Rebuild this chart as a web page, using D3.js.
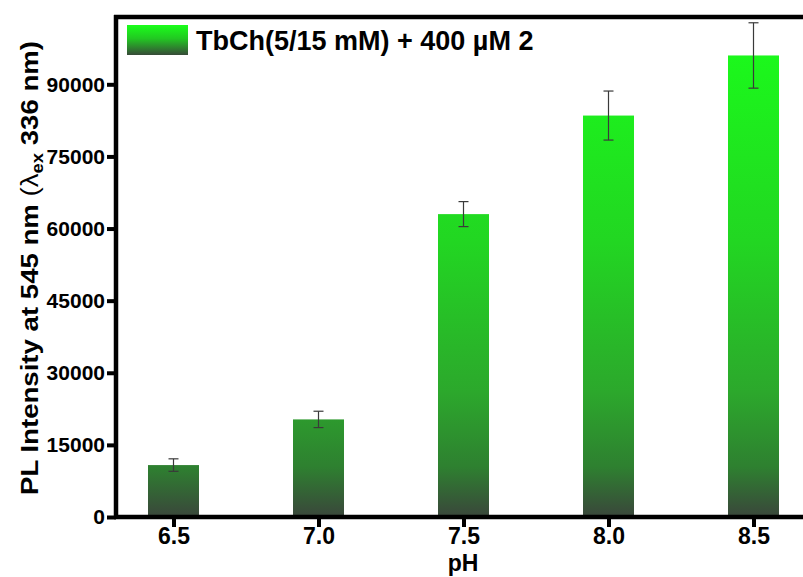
<!DOCTYPE html>
<html>
<head>
<meta charset="utf-8">
<script src="https://cdn.jsdelivr.net/npm/d3@7"></script>
<style>
  body { margin: 0; background: #fff; }
  svg { display: block; font-family: "Liberation Sans", Arial, sans-serif; }
</style>
</head>
<body>
<svg id="vis-svg"></svg>
<script>
/** * * * * * CONSTANTS * * * * */
const width = 803;
const height = 577;
const margin = { top: 17, bottom: 60, left: 116, right: 0 };

// data
const phLabels = ['6.5', '7.0', '7.5', '8.0', '8.5'];
const intensity = [10800, 20300, 63000, 83500, 96000];
const errors = [1300, 1700, 2600, 5100, 6800];
const yTicks = [0, 15000, 30000, 45000, 60000, 75000, 90000];
const legendLabel = 'TbCh(5/15 mM) + 400 \u00B5M 2';

const data = phLabels.map(function(p, i) {
  return { ph: p, value: intensity[i], err: errors[i] };
});

const svg = d3.select('#vis-svg')
  .attr('width', width)
  .attr('height', height);

const plotBottom = height - margin.bottom;   // 517

// gradients
const defs = svg.append('defs');
const barGrad = defs.append('linearGradient')
  .attr('id', 'barGrad')
  .attr('gradientUnits', 'userSpaceOnUse')
  .attr('x1', 0).attr('x2', 0)
  .attr('y1', margin.top).attr('y2', plotBottom);
[[0, '#1aff1a'], [0.45, '#22d622'], [0.75, '#2ca82c'], [0.9, '#2e8030'], [1, '#3a463b']]
  .forEach(function(s) {
    barGrad.append('stop').attr('offset', s[0]).attr('stop-color', s[1]);
  });

const legGrad = defs.append('linearGradient')
  .attr('id', 'legGrad')
  .attr('x1', 0).attr('x2', 0).attr('y1', 0).attr('y2', 1);
[[0, '#1aff1a'], [0.45, '#22c822'], [1, '#374b38']]
  .forEach(function(s) {
    legGrad.append('stop').attr('offset', s[0]).attr('stop-color', s[1]);
  });

// scales
const yScale = d3.scaleLinear()
  .domain([0, 104000])
  .range([plotBottom, margin.top]);

const xScale = d3.scalePoint()
  .domain(phLabels)
  .range([101, 826])
  .padding(0.5);

const barWidth = 51;

// bars
svg.append('g').selectAll('rect')
  .data(data)
  .enter()
  .append('rect')
  .attr('x', function(d) { return xScale(d.ph) - barWidth / 2; })
  .attr('y', function(d) { return yScale(d.value); })
  .attr('width', barWidth)
  .attr('height', function(d) { return plotBottom - yScale(d.value); })
  .attr('fill', 'url(#barGrad)');

// error bars
const errG = svg.append('g')
  .attr('stroke', '#3a3a3a')
  .attr('stroke-width', 1.2)
  .attr('fill', 'none');
data.forEach(function(d) {
  const cx = xScale(d.ph);
  const yTop = yScale(d.value + d.err);
  const yBot = yScale(d.value - d.err);
  errG.append('line').attr('x1', cx).attr('x2', cx).attr('y1', yTop).attr('y2', yBot);
  errG.append('line').attr('x1', cx - 5).attr('x2', cx + 5).attr('y1', yTop).attr('y2', yTop);
  errG.append('line').attr('x1', cx - 5).attr('x2', cx + 5).attr('y1', yBot).attr('y2', yBot);
});

// axes
const yAxis = svg.append('g')
  .attr('transform', `translate(${margin.left},0)`)
  .call(d3.axisLeft(yScale).tickValues(yTicks).tickFormat(d3.format('d')).tickSize(9).tickPadding(2));
yAxis.select('.domain').remove();
yAxis.selectAll('line').attr('stroke', '#000').attr('stroke-width', 4);
yAxis.selectAll('text')
  .attr('fill', '#000')
  .style('font-size', '21px')
  .style('font-weight', 'bold');

const xAxis = svg.append('g')
  .attr('transform', `translate(0,${plotBottom})`)
  .call(d3.axisBottom(xScale).tickSize(10).tickPadding(1));
xAxis.select('.domain').remove();
xAxis.selectAll('line').attr('stroke', '#000').attr('stroke-width', 4);
xAxis.selectAll('text')
  .attr('fill', '#000')
  .style('font-size', '23px')
  .style('font-weight', 'bold');

// frame
const frame = svg.append('g').attr('stroke', '#000').attr('stroke-width', 4.5);
frame.append('line').attr('x1', margin.left).attr('x2', margin.left)
  .attr('y1', margin.top - 2).attr('y2', plotBottom + 2);
frame.append('line').attr('x1', margin.left - 2).attr('x2', width)
  .attr('y1', plotBottom).attr('y2', plotBottom);
frame.append('line').attr('x1', margin.left - 2).attr('x2', width)
  .attr('y1', margin.top).attr('y2', margin.top);

// legend
svg.append('rect')
  .attr('x', 127).attr('y', 25)
  .attr('width', 61).attr('height', 30)
  .attr('fill', 'url(#legGrad)');
svg.append('text')
  .attr('x', 196).attr('y', 50)
  .style('font-size', '27px')
  .style('font-weight', 'bold')
  .text(legendLabel);

// axis titles
svg.append('text')
  .attr('x', 463).attr('y', 571)
  .attr('text-anchor', 'middle')
  .style('font-size', '23px')
  .style('font-weight', 'bold')
  .text('pH');

const yTitle = svg.append('text')
  .attr('transform', 'translate(38,268) rotate(-90) scale(1.15,1)')
  .attr('text-anchor', 'middle')
  .style('font-size', '24px')
  .style('font-weight', 'bold');
yTitle.append('tspan').text('PL Intensity at 545 nm ');
yTitle.append('tspan').style('font-weight', 'normal').text('(\u03BB');
yTitle.append('tspan').attr('dy', 5).style('font-size', '16px').text('ex');
yTitle.append('tspan').attr('dy', -5).text(' 336 nm)');
</script>
</body>
</html>
